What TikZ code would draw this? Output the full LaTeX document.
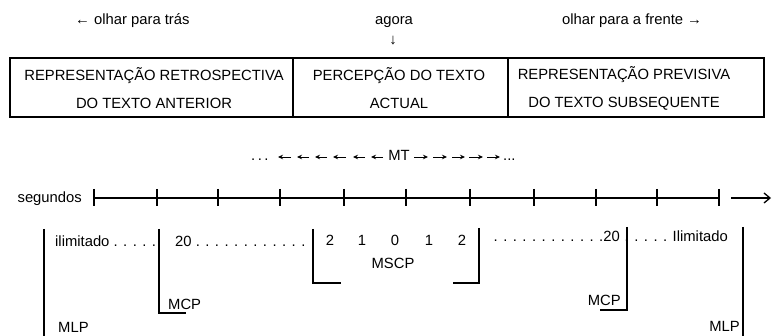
\documentclass[tikz,border=0pt]{standalone}
\usepackage{fontspec}
\setmainfont{Liberation Sans}
\usetikzlibrary{arrows.meta}
\begin{document}
\begin{tikzpicture}[x=1pt,y=-1pt,
  lbl/.style={font=\fontsize{14.8}{17}\selectfont, inner sep=0pt},
  boxn/.style={draw, line width=1.6pt, minimum height=59pt, inner sep=0pt, anchor=north west},
  boxt/.style={align=center, font=\fontsize{14.8}{28}\selectfont, inner sep=0pt},
  brk/.style={line width=1.6pt},
  axis/.style={line width=1.3pt},
  mtarr/.style={line width=0.8pt, -{Stealth[length=5pt,width=4.5pt]}}]
\useasboundingbox (0,0) rectangle (772,336);

% top labels
\node[lbl, anchor=base west] (back) at (75,25) {← olhar para trás};
\node[lbl, anchor=base] (agora) at (394,25) {agora};
\node[lbl, anchor=base] (down) at (393,45) {↓};
\node[lbl, anchor=base west] (fwd) at (562,25) {olhar para a frente →};

% boxes
\node[boxn, minimum width=283pt] (b1) at (9,57) {};
\node[boxn, minimum width=215pt] (b2) at (292,57) {};
\node[boxn, minimum width=256pt] (b3) at (507,57) {};
\node[boxt] (t1) at (154,88) {REPRESENTAÇÃO RETROSPECTIVA\\DO TEXTO ANTERIOR};
\node[boxt] (t2) at (399,88) {PERCEPÇÃO DO TEXTO\\ACTUAL};
\node[boxt] (t3) at (624,88) {REPRESENTAÇÃO PREVISIVA\\DO TEXTO SUBSEQUENTE};

% MT line
\node[lbl, anchor=base west] (dl) at (251,161) {.\,.\,.};
\node[lbl, anchor=base] (mt) at (399,161) {MT};
\node[lbl, anchor=base west] (dr) at (503,161) {...};
\foreach \i/\a/\b in {1/291/278,2/309/297,3/327/315,4/346/333,5/365/353,6/383/371}{
  \coordinate (ls\i) at (\a,157); \coordinate (le\i) at (\b,157);
  \draw[mtarr] (ls\i) -- (le\i);
}
\foreach \i/\a/\b in {1/414/428,2/433/447,3/452/465,4/469/483,5/487/500}{
  \coordinate (rs\i) at (\a,157); \coordinate (re\i) at (\b,157);
  \draw[mtarr] (rs\i) -- (re\i);
}

% timeline
\node[lbl, anchor=base east] (seg) at (82,203) {segundos};
\foreach \i/\x in {0/94,1/157,2/218,3/280,4/344,5/406,6/470,7/534,8/596,9/657,10/719}{
  \coordinate (t\i) at (\x,198);
  \draw[axis] (\x,189) -- (\x,206);
}
\draw[axis] (t0) -- (t10);
\coordinate (a0) at (731,198);
\coordinate (a1) at (771,198);
\draw[axis,-{Straight Barb[length=6pt,width=10pt]}] (a0) -- (a1);

% lower labels
\node[lbl, anchor=base west] (ilL) at (55,247) {ilimitado . . . . .};
\node[lbl, anchor=base west] (twL) at (175,247) {20 . . . . . . . . . . . .};
\foreach \n/\x/\d in {d1/330/2,d2/362/1,d3/395/0,d4/429/1,d5/462/2}{
  \node[lbl, anchor=base] (\n) at (\x,246) {\d};
}
\node[lbl, anchor=base] (mscp) at (393,269) {MSCP};
\node[lbl, anchor=base east] (twR) at (620,242) {. . . . . . . . . . . .20};
\node[lbl, anchor=base east] (ilR) at (728,242) {. . . . . Ilimitado};
\node[lbl, anchor=base west] (mcpL) at (168,310) {MCP};
\node[lbl, anchor=base east] (mcpR) at (621,306) {MCP};
\node[lbl, anchor=base west] (mlpL) at (58,333) {MLP};
\node[lbl, anchor=base east] (mlpR) at (740,332) {MLP};

% brackets
\draw[brk] (44,229) -- (44,340);
\draw[brk] (159,229) -- (159,313) -- (186,313);
\draw[brk] (313,229) -- (313,283) -- (341,283);
\draw[brk] (479,228) -- (479,283) -- (453,283);
\draw[brk] (627,227) -- (627,310) -- (600,310);
\draw[brk] (743,227) -- (743,340);
\end{tikzpicture}
\end{document}
